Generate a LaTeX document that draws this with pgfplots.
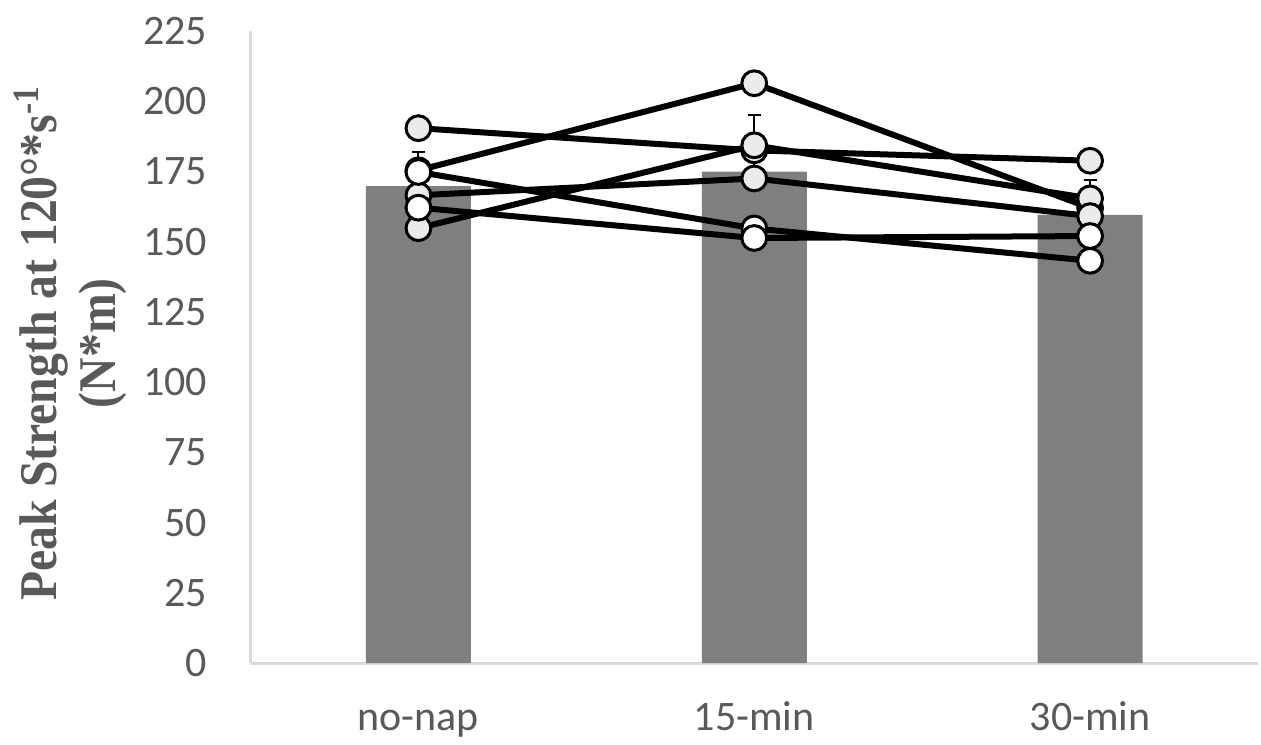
\documentclass[border=0pt]{standalone}
\usepackage{pgfplots}
\pgfplotsset{compat=1.18}
\usepackage{fontspec}
\usepackage{graphicx}
\setmainfont{Carlito}
\newfontfamily\carlito{Carlito}
\newfontfamily\labfont[FakeStretch=0.9]{Liberation Serif}
\definecolor{barGray}{HTML}{7F7F7F}
\definecolor{txtGray}{HTML}{595959}
\definecolor{axGray}{HTML}{D9D9D9}
\definecolor{mkGray}{HTML}{EBEBEB}
\begin{document}
\begin{tikzpicture}
\useasboundingbox (0,0) rectangle (630.5pt,372pt);
\begin{axis}[
  at={(125.25pt,40.5pt)}, anchor=south west,
  scale only axis, width=503.75pt, height=316pt,
  xmin=-0.5, xmax=2.5, ymin=0, ymax=225,
  axis x line=bottom, axis y line=left,
  axis line style={-, draw=axGray, line width=1.5pt},
  major tick length=0pt,
  xtick={0,1,2}, xticklabels={no-nap,15-min,30-min},
  ytick={0,25,...,225},
  /pgf/number format/assume math mode=true,
  tick label style={font=\carlito\fontsize{21}{24}\selectfont, text=txtGray},
  yticklabel style={anchor=east, inner sep=0pt, xshift=-21.5pt},
  xticklabel style={anchor=base, inner sep=0pt, yshift=-33.5pt},
  ylabel={Peak Strength at 120°*s\textsuperscript{-1}\\(N*m)},
  ylabel style={at={(axis description cs:-0.179,0.506)}, anchor=center, align=center,
    font=\labfont\bfseries\fontsize{26.5}{29.5}\selectfont, text=txtGray},
  clip=false,
]
\addplot[ybar, bar width=52.5pt, fill=barGray, draw=none,
  error bars/.cd, y dir=plus, y explicit,
  error bar style={black, line width=1pt},
  error mark options={rotate=90, mark size=3.25pt, line width=1pt, black}]
  coordinates {(0,169.8) +- (0,12.2) (1,174.9) +- (0,20.2) (2,159.5) +- (0,12.5)};
\pgfplotsset{every axis plot/.append style={black, line width=3pt, mark=*, mark size=6.2pt}}
\addplot[mark options={fill=mkGray, draw=black, line width=1.5pt}] coordinates {(0,190.4) (1,182.5) (2,178.8)};
\addplot[mark options={fill=mkGray, draw=black, line width=1.5pt}] coordinates {(0,175.4) (1,206.4) (2,162)};
\addplot[mark options={fill=mkGray, draw=black, line width=1.5pt}] coordinates {(0,154.8) (1,184.3) (2,165.4)};
\addplot[mark options={fill=mkGray, draw=black, line width=1.5pt}] coordinates {(0,166.5) (1,172.5) (2,159.1)};
\addplot[mark options={fill=white, draw=black, line width=1.5pt}] coordinates {(0,174.8) (1,154.7) (2,143.2)};
\addplot[mark options={fill=white, draw=black, line width=1.5pt}] coordinates {(0,162.1) (1,151.3) (2,152)};
\end{axis}
\end{tikzpicture}
\end{document}
